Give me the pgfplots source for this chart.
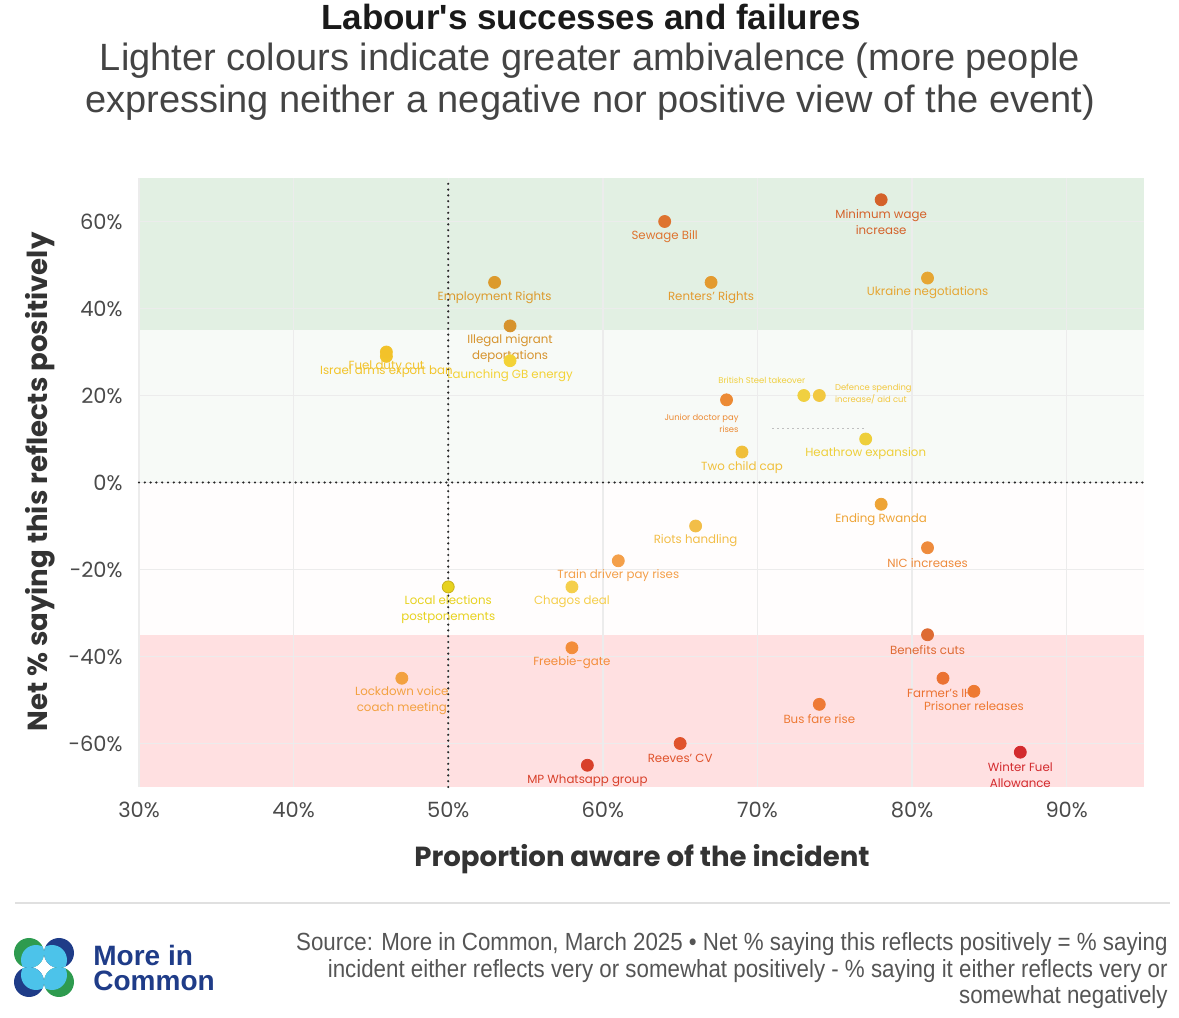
\documentclass[border=0pt]{standalone}
\usepackage{pgfplots}
\pgfplotsset{compat=1.18}
\usepackage{fontspec}
\setmainfont{Poppins}
\newfontfamily\lib{Liberation Sans}
\newfontfamily\libn{Liberation Sans}[FakeStretch=0.9]

\definecolor{bandG}{HTML}{E2F0E3}
\definecolor{bandLG}{HTML}{F7FAF7}
\definecolor{bandLP}{HTML}{FFFDFD}
\definecolor{bandP}{HTML}{FFE0E1}
\definecolor{gridc}{HTML}{ECECEC}
\definecolor{tickc}{HTML}{4A4A4A}
\definecolor{titc}{HTML}{1A1A1A}
\definecolor{subc}{HTML}{444444}
\definecolor{labc}{HTML}{333333}
\definecolor{srcc}{HTML}{555555}
\definecolor{mblue}{HTML}{1F3C88}
\definecolor{mgreen}{HTML}{2E9B4F}
\definecolor{mcyan}{HTML}{4CC3EA}

\definecolor{cMW}{HTML}{D4622A}
\definecolor{cSB}{HTML}{DE7430}
\definecolor{cER}{HTML}{DC9A2C}
\definecolor{cRR}{HTML}{E39A2F}
\definecolor{cUK}{HTML}{E6A633}
\definecolor{cIM}{HTML}{D6932D}
\definecolor{cFD}{HTML}{F2C22A}
\definecolor{cIA}{HTML}{F2C42A}
\definecolor{cGB}{HTML}{F3D236}
\definecolor{cBS}{HTML}{F0D040}
\definecolor{cDS}{HTML}{F2C840}
\definecolor{cJD}{HTML}{EC8A34}
\definecolor{cHE}{HTML}{EECF3A}
\definecolor{cTC}{HTML}{F0BF3A}
\definecolor{cRW}{HTML}{EEA436}
\definecolor{cNIC}{HTML}{EE8B3C}
\definecolor{cRH}{HTML}{F2BE48}
\definecolor{cTD}{HTML}{F4A04A}
\definecolor{cCH}{HTML}{F5CF4C}
\definecolor{cLE}{HTML}{E7D21E}
\definecolor{cLEo}{HTML}{C9B21A}
\definecolor{cFG}{HTML}{F38D3A}
\definecolor{cLD}{HTML}{F3A140}
\definecolor{cBC}{HTML}{DE6B33}
\definecolor{cFI}{HTML}{EB7232}
\definecolor{cPR}{HTML}{EE7A32}
\definecolor{cBF}{HTML}{EE7A35}
\definecolor{cRV}{HTML}{E0532C}
\definecolor{cMP}{HTML}{D8402A}
\definecolor{cWF}{HTML}{D32B2E}

\newcommand{\lab}{\fontsize{5.9}{8}\selectfont}
\newcommand{\labs}{\fontsize{4.2}{6}\selectfont}
\newcommand{\tickf}{\fontsize{10.5}{12}\selectfont}

\pgfplotsset{
  pt/.style={only marks, mark=*, mark size=3pt, color=#1},
  one/.style={every node near coord/.append style={yshift=-7.5pt}},
  two/.style={every node near coord/.append style={yshift=-11.3pt}},
}

\begin{document}
\begin{tikzpicture}
\begin{axis}[
  set layers,
  at={(69.5pt,115.5pt)}, anchor=south west,
  width=502.5pt, height=304.5pt, scale only axis,
  xmin=30, xmax=95, ymin=-70, ymax=70,
  xtick={30,40,50,60,70,80,90},
  xticklabels={30\%,40\%,50\%,60\%,70\%,80\%,90\%},
  ytick={-60,-40,-20,0,20,40,60},
  yticklabels={-60\%,-40\%,-20\%,0\%,20\%,40\%,60\%},
  grid=major, grid style={draw=gridc, line width=0.7pt},
  axis line style={draw=none}, major tick length=0pt,
  tick style={draw=none},
  xticklabel style={font=\tickf, text=tickc, anchor=center, inner sep=0pt, yshift=-11.5pt},
  yticklabel style={font=\tickf, text=tickc, anchor=east, inner sep=0pt, xshift=-8pt},
  clip=false,
  every node near coord/.append style={font=\lab, align=center, inner sep=0pt},
  nodes near coords align={anchor=center},
]
% bands
\addplot[on layer=axis background, draw=none, fill=bandG] coordinates {(30,35) (95,35) (95,70) (30,70)} -- cycle;
\addplot[on layer=axis background, draw=none, fill=bandLG] coordinates {(30,0) (95,0) (95,35) (30,35)} -- cycle;
\addplot[on layer=axis background, draw=none, fill=bandLP] coordinates {(30,-35) (95,-35) (95,0) (30,0)} -- cycle;
\addplot[on layer=axis background, draw=none, fill=bandP] coordinates {(30,-70) (95,-70) (95,-35) (30,-35)} -- cycle;
% reference lines
\addplot[black!85, line width=1.2pt, line cap=round, dash pattern=on 0pt off 2.9pt] coordinates {(50,-70) (50,70)};
\addplot[black!85, line width=1.2pt, line cap=round, dash pattern=on 0pt off 2.9pt] coordinates {(30,0) (95,0)};
\addplot[black!25, line width=0.5pt, dash pattern=on 1pt off 1.5pt] coordinates {(70.97,12.4) (76.86,12.4)};

% points
\addplot[pt=cMW, two, nodes near coords={Minimum wage\\increase}] coordinates {(78,65)};
\addplot[pt=cSB, one, nodes near coords={Sewage Bill}] coordinates {(64,60)};
\addplot[pt=cER, one, nodes near coords={Employment Rights}] coordinates {(53,46)};
\addplot[pt=cRR, one, nodes near coords={Renters' Rights}] coordinates {(67,46)};
\addplot[pt=cUK, one, nodes near coords={Ukraine negotiations}] coordinates {(81,47)};
\addplot[pt=cIM, two, nodes near coords={Illegal migrant\\deportations}] coordinates {(54,36)};
\addplot[pt=cIA, one, nodes near coords={Israel arms export ban}] coordinates {(46,29)};
\addplot[pt=cFD, one, nodes near coords={Fuel duty cut}] coordinates {(46,30)};
\addplot[pt=cGB, one, nodes near coords={Launching GB energy}] coordinates {(54,28)};
\addplot[pt=cBS, nodes near coords={British Steel takeover},
  every node near coord/.append style={font=\labs, xshift=-21pt, yshift=7.5pt}] coordinates {(73,20)};
\addplot[pt=cDS, nodes near coords={Defence spending\\increase/ aid cut},
  every node near coord/.append style={font=\labs, align=left, xshift=27pt, yshift=0.7pt}] coordinates {(74,20)};
\addplot[pt=cJD, nodes near coords={Junior doctor pay\\rises},
  every node near coord/.append style={font=\labs, align=right, xshift=-12.5pt, yshift=-11.7pt}] coordinates {(68,19)};
\addplot[pt=cHE, one, nodes near coords={Heathrow expansion}] coordinates {(77,10)};
\addplot[pt=cTC, one, nodes near coords={Two child cap}] coordinates {(69,7)};
\addplot[pt=cRW, one, nodes near coords={Ending Rwanda}] coordinates {(78,-5)};
\addplot[pt=cNIC, one, nodes near coords={NIC increases}] coordinates {(81,-15)};
\addplot[pt=cRH, one, nodes near coords={Riots handling}] coordinates {(66,-10)};
\addplot[pt=cTD, one, nodes near coords={Train driver pay rises}] coordinates {(61,-18)};
\addplot[pt=cCH, one, nodes near coords={Chagos deal}] coordinates {(58,-24)};
\addplot[pt=cLE, two, mark options={draw=cLEo}, nodes near coords={Local elections\\postponements}] coordinates {(50,-24)};
\addplot[pt=cFG, one, nodes near coords={Freebie-gate}] coordinates {(58,-38)};
\addplot[pt=cLD, two, nodes near coords={Lockdown voice\\coach meeting}] coordinates {(47,-45)};
\addplot[pt=cBC, one, nodes near coords={Benefits cuts}] coordinates {(81,-35)};
\addplot[pt=cFI, one, nodes near coords={Farmer's IHT}] coordinates {(82,-45)};
\addplot[pt=cPR, one, nodes near coords={Prisoner releases}] coordinates {(84,-48)};
\addplot[pt=cBF, one, nodes near coords={Bus fare rise}] coordinates {(74,-51)};
\addplot[pt=cRV, one, nodes near coords={Reeves' CV}] coordinates {(65,-60)};
\addplot[pt=cMP, one, nodes near coords={MP Whatsapp group}] coordinates {(59,-65)};
\addplot[pt=cWF, two, nodes near coords={Winter Fuel\\Allowance}] coordinates {(87,-62)};
\end{axis}

\begin{scope}[shift={(0,509pt)}, x=0.5pt, y=-0.5pt]
\node[inner sep=0pt, font=\lib\bfseries\fontsize{17.5}{21}\selectfont, text=titc] at (591,17) {Labour's successes and failures};
\node[inner sep=0pt, font=\lib\fontsize{19}{21}\selectfont, text=subc] at (590,61) {Lighter colours indicate greater ambivalence (more people};
\node[inner sep=0pt, font=\lib\fontsize{19}{21}\selectfont, text=subc] at (590,103) {expressing neither a negative nor positive view of the event)};
\node[inner sep=0pt, font=\bfseries\fontsize{13.8}{16}\selectfont, text=labc] at (642,859) {Proportion aware of the incident};
\node[inner sep=0pt, font=\bfseries\fontsize{13.8}{16}\selectfont, text=labc, rotate=90] at (40,482) {Net \% saying this reflects positively};
\draw[black!12, line width=1pt] (15,903) -- (1170,903);
% logo
\foreach \cx/\cy/\col/\dx/\dy in {29/953/mgreen/1/1, 59/953/mblue/-1/1, 29/982/mblue/1/-1, 59/982/mgreen/-1/-1}{
  \fill[\col] (\cx,\cy) circle[radius=7.5pt];
  \begin{scope}
    \clip (\cx,\cy) circle[radius=7.5pt];
    \fill[mcyan] (\cx+\dx*7,\cy+\dy*7) circle[radius=7.5pt];
  \end{scope}
}
\node[font=\lib\bfseries\fontsize{14}{12.5}\selectfont, text=mblue, anchor=west, align=left, inner sep=0pt] at (93,968) {More in\\Common};
\node[font=\libn\fontsize{12.4}{13.25}\selectfont, text=srcc, anchor=east, align=right, inner sep=0pt] at (1168,971) {Source: More in Common, March 2025 \textbullet{} Net \% saying this reflects positively = \% saying\\incident either reflects very or somewhat positively - \% saying it either reflects very or\\somewhat negatively};
\end{scope}
\pgfresetboundingbox
\useasboundingbox (0,0) rectangle (589.5pt,509pt);
\end{tikzpicture}
\end{document}
